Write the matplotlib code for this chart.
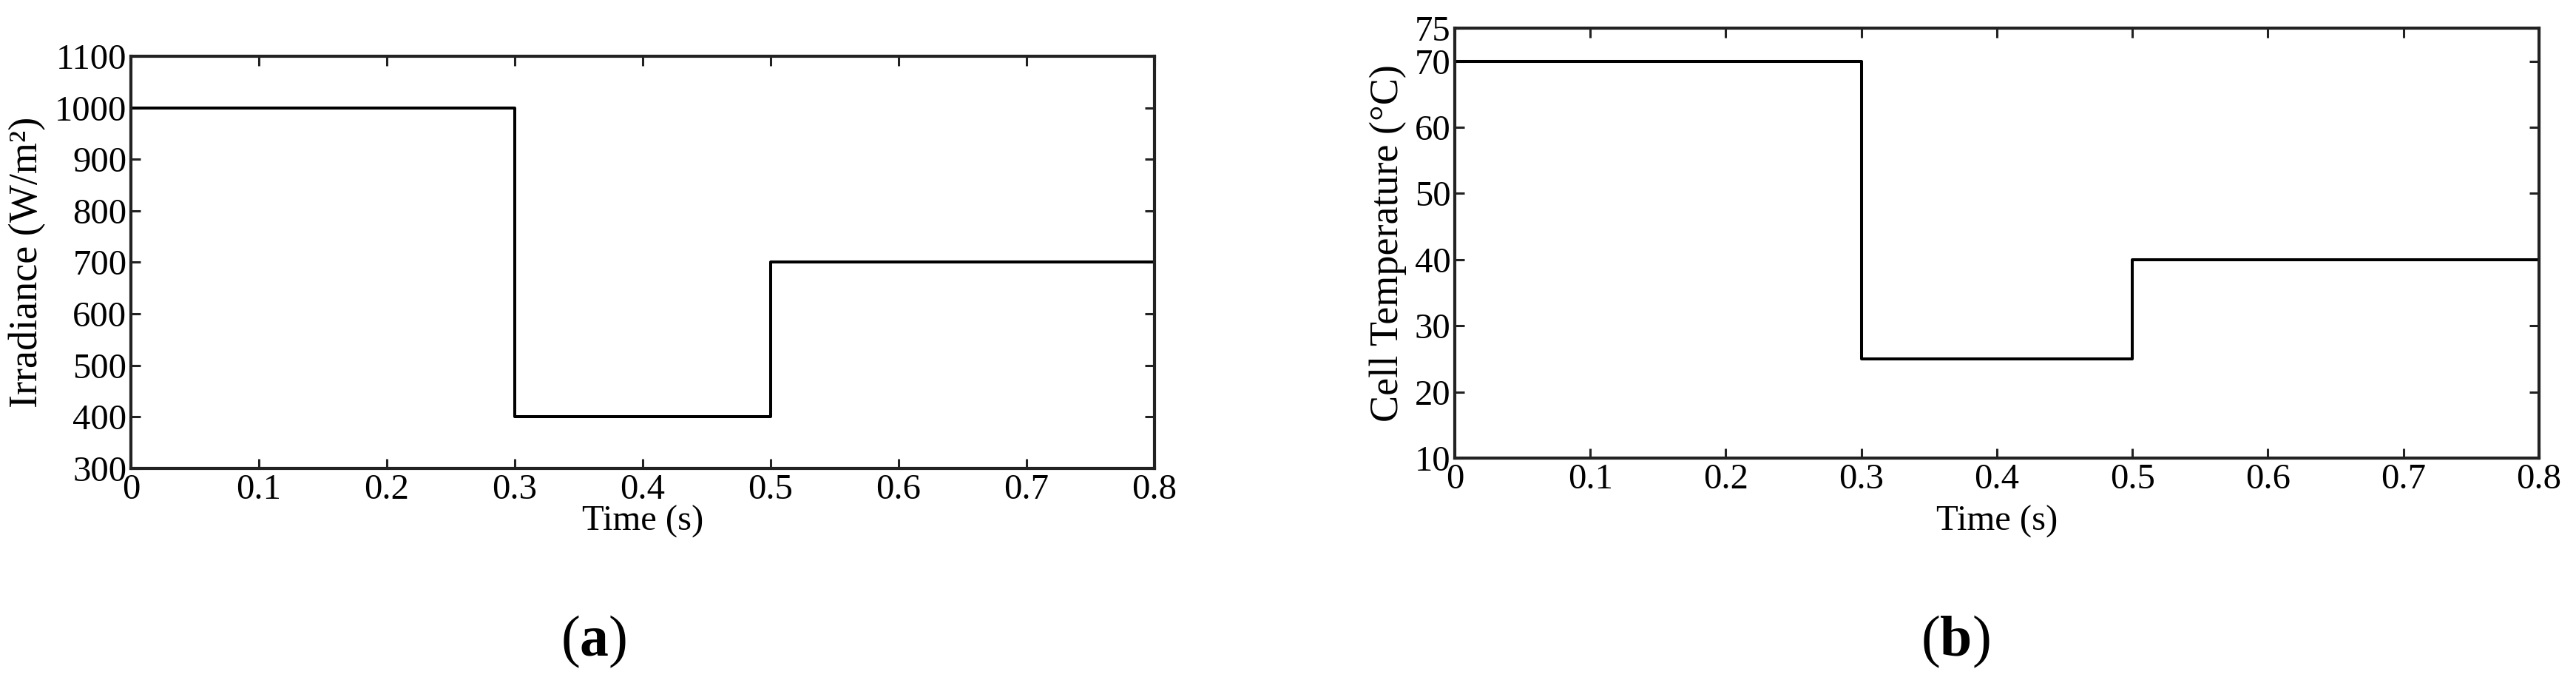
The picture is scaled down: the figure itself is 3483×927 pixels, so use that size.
import matplotlib
matplotlib.use("Agg")
import matplotlib.pyplot as plt

plt.rcParams['font.family'] = ['Liberation Serif', 'DejaVu Serif']
plt.rcParams['mathtext.fontset'] = 'custom'
plt.rcParams['mathtext.rm'] = 'Liberation Serif'
plt.rcParams['mathtext.bf'] = 'Liberation Serif:bold'

# step change instants (s) and levels held between them
t_edges = [0, 0.3, 0.5, 0.8]
irradiance = [1000, 400, 700]
cell_temp = [70, 25, 40]

x_ticks = [0, 0.1, 0.2, 0.3, 0.4, 0.5, 0.6, 0.7, 0.8]
x_labels = ["0", "0.1", "0.2", "0.3", "0.4", "0.5", "0.6", "0.7", "0.8"]
irr_ticks = [300, 400, 500, 600, 700, 800, 900, 1000, 1100]
temp_ticks = [10, 20, 30, 40, 50, 60, 70, 75]

fs = 35

fig = plt.figure(figsize=(34.83, 9.27), dpi=100)
ax1 = fig.add_axes([0.0508, 0.3172, 0.3974, 0.6009])
ax2 = fig.add_axes([0.5647, 0.3323, 0.4209, 0.6268])


def dibuja(ax, valores, yticks, ylabel, ylab_x, xlab_y):
    ax.step(t_edges, valores + [valores[-1]], where='post', color='black', lw=2.9)
    ax.set_xlim(0, 0.8)
    ax.set_ylim(yticks[0], yticks[-1])
    ax.set_xticks(x_ticks)
    ax.set_xticklabels(x_labels)
    ax.set_yticks(yticks)
    ax.tick_params(direction='in', top=True, right=True, length=9.5, width=2.2,
                   labelsize=fs, color='#222222')
    ax.tick_params(axis='x', pad=5)
    ax.tick_params(axis='y', pad=4)
    for s in ax.spines.values():
        s.set_linewidth(3.0)
        s.set_color('#222222')
    ax.set_xlabel("Time (s)", fontsize=fs)
    ax.xaxis.set_label_coords(0.5, xlab_y)
    ax.set_ylabel(ylabel, fontsize=39)
    ax.yaxis.set_label_coords(ylab_x, 0.5)


dibuja(ax1, irradiance, irr_ticks, "Irradiance (W/m²)", -0.083, -0.09)
dibuja(ax2, cell_temp, temp_ticks, "Cell Temperature (°C)", -0.044, -0.11)

fig.text(0.2303, 0.0647, r"($\mathbf{a}$)", fontsize=56, ha='center', va='center')
fig.text(0.759, 0.0647, r"($\mathbf{b}$)", fontsize=56, ha='center', va='center')

fig.savefig("out.png", dpi=100)
